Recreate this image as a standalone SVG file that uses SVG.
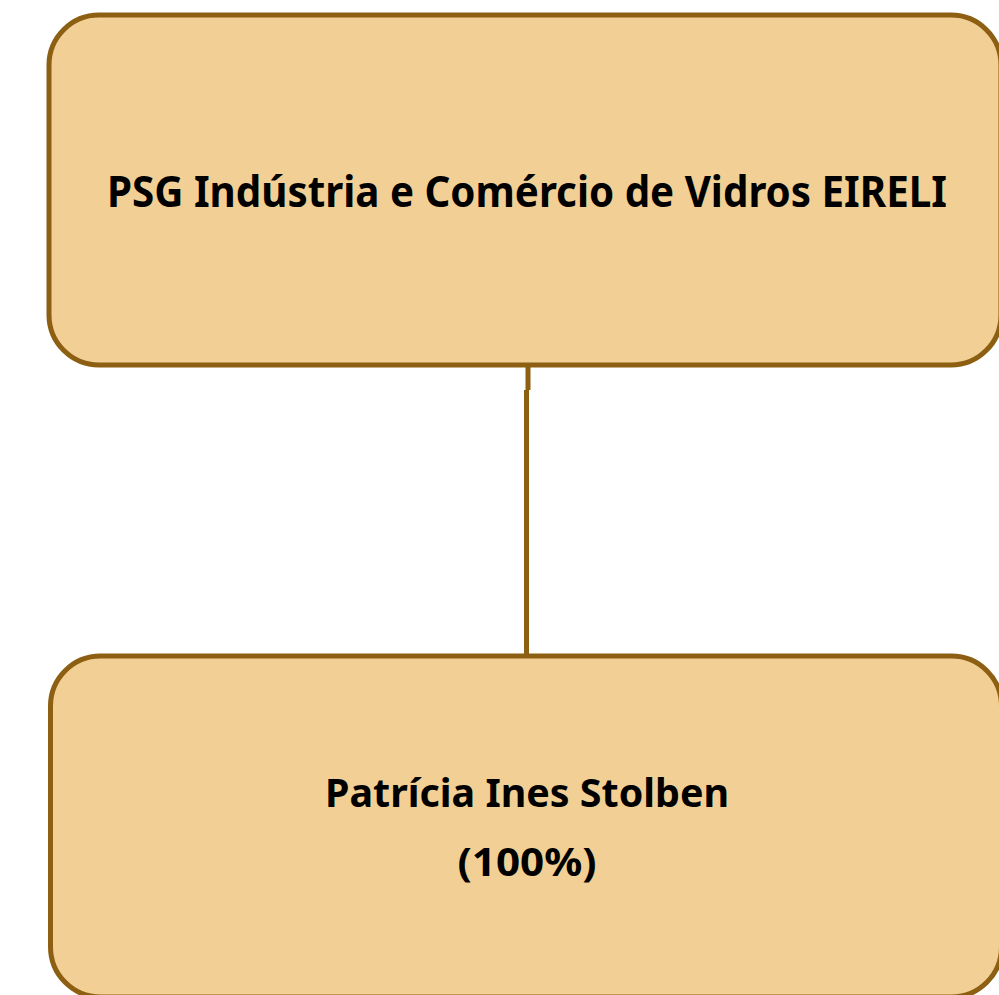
<svg xmlns="http://www.w3.org/2000/svg" width="999" height="995" viewBox="0 0 999 995">
<style>
.box{fill:#F2CF94;stroke:#8C5F12;stroke-width:5}
.t{font-family:"Noto Sans","Open Sans",sans-serif;font-weight:bold;fill:#000;text-anchor:middle}
.c{fill:none;stroke:#8C5F12;stroke-width:5}
</style>
<rect width="999" height="995" fill="#fff"/>
<g id="connectors">
<path class="c" d="M528,365 L528,390 M526.5,390 L526.5,656"/>
</g>
<g id="node1">
<rect class="box" x="49" y="15" width="952" height="350" rx="50" ry="50"/>
<text class="t" x="527" y="207" font-size="43" textLength="840" lengthAdjust="spacingAndGlyphs">PSG Indústria e Comércio de Vidros EIRELI</text>
</g>
<g id="node2">
<rect class="box" x="50.5" y="656" width="951" height="341" rx="50" ry="50"/>
<text class="t" x="527" y="807" font-size="40" textLength="404" lengthAdjust="spacingAndGlyphs">Patrícia Ines Stolben</text>
<text class="t" x="527" y="876" font-size="40" textLength="139" lengthAdjust="spacingAndGlyphs">(100%)</text>
</g>
</svg>
